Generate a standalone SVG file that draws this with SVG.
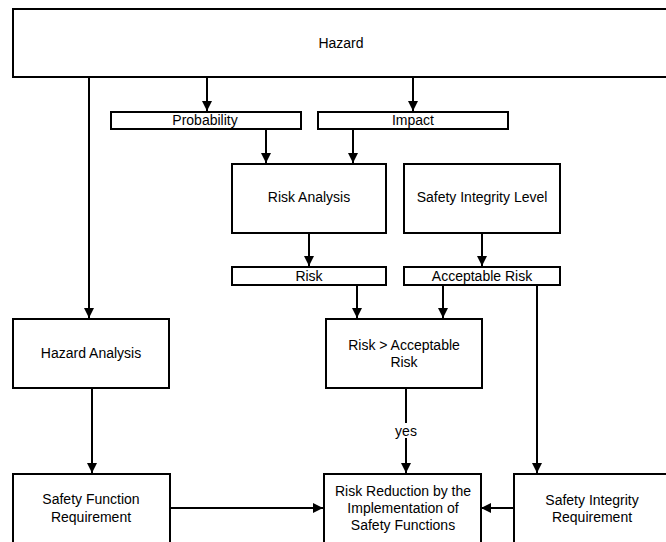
<svg xmlns="http://www.w3.org/2000/svg" width="666" height="542" viewBox="0 0 666 542">
<style>
.box{fill:#fff;stroke:#000;stroke-width:2}
.t{font-family:"Liberation Sans",Arial,sans-serif;font-size:14px;fill:#000;text-anchor:middle}
.c{stroke:#000;stroke-width:2;fill:none}
.a{marker-end:url(#ah)}
</style>
<defs>
<marker id="ah" markerUnits="userSpaceOnUse" markerWidth="10" markerHeight="10" refX="10" refY="5" orient="auto">
<path d="M0,0 L10,5 L0,10 z" fill="#000"/>
</marker>
</defs>
<rect width="666" height="542" fill="#fff"/>
<g id="connectors">
<line class="c a" x1="89" y1="77" x2="89" y2="318"/>
<line class="c a" x1="207" y1="77" x2="207" y2="111"/>
<line class="c a" x1="413" y1="77" x2="413" y2="111"/>
<line class="c a" x1="266" y1="130" x2="266" y2="163"/>
<line class="c a" x1="353" y1="130" x2="353" y2="163"/>
<line class="c a" x1="309" y1="233" x2="309" y2="266"/>
<line class="c a" x1="482" y1="233" x2="482" y2="266"/>
<line class="c a" x1="357" y1="285" x2="357" y2="318"/>
<line class="c a" x1="443" y1="285" x2="443" y2="318"/>
<line class="c a" x1="537" y1="285" x2="537" y2="473"/>
<line class="c a" x1="92" y1="388" x2="92" y2="473"/>
<line class="c a" x1="406" y1="388" x2="406" y2="473"/>
<line class="c a" x1="170" y1="508" x2="323" y2="508"/>
<line class="c a" x1="514" y1="508" x2="481" y2="508"/>
<rect x="392" y="423" width="28" height="15" fill="#fff"/>
<text class="t" x="406" y="436">yes</text>
</g>
<g id="hazard"><rect class="box" x="13" y="9" width="670" height="68"/><text class="t" x="341" y="48">Hazard</text></g>
<g id="probability"><rect class="box" x="111" y="112" width="190" height="17"/><text class="t" x="205" y="125">Probability</text></g>
<g id="impact"><rect class="box" x="318" y="112" width="190" height="17"/><text class="t" x="413" y="125">Impact</text></g>
<g id="risk-analysis"><rect class="box" x="232" y="164" width="154" height="69"/><text class="t" x="309" y="202">Risk Analysis</text></g>
<g id="sil"><rect class="box" x="404" y="164" width="156" height="69"/><text class="t" x="482" y="202">Safety Integrity Level</text></g>
<g id="risk"><rect class="box" x="232" y="267" width="154" height="18"/><text class="t" x="309" y="281">Risk</text></g>
<g id="acceptable-risk"><rect class="box" x="404" y="267" width="156" height="18"/><text class="t" x="482" y="281">Acceptable Risk</text></g>
<g id="hazard-analysis"><rect class="box" x="13" y="319" width="156" height="69"/><text class="t" x="91" y="358">Hazard Analysis</text></g>
<g id="risk-compare"><rect class="box" x="326" y="319" width="156" height="69"/><text class="t" x="404" y="350">Risk &gt; Acceptable</text><text class="t" x="404" y="367">Risk</text></g>
<g id="sfr"><rect class="box" x="13" y="474" width="157" height="90"/><text class="t" x="91" y="504">Safety Function</text><text class="t" x="91" y="522">Requirement</text></g>
<g id="risk-reduction"><rect class="box" x="324" y="474" width="157" height="90"/><text class="t" x="403" y="496">Risk Reduction by the</text><text class="t" x="403" y="513">Implementation of</text><text class="t" x="403" y="530">Safety Functions</text></g>
<g id="sir"><rect class="box" x="514" y="474" width="170" height="90"/><text class="t" x="592" y="505">Safety Integrity</text><text class="t" x="592" y="522">Requirement</text></g>
</svg>
